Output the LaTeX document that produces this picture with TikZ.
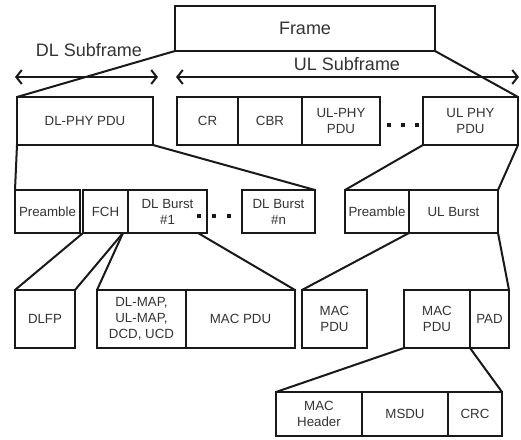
\documentclass[tikz,border=0pt]{standalone}
\usepackage{fontspec}
\setmainfont{Liberation Sans}
\usetikzlibrary{positioning}
\usetikzlibrary{arrows.meta}
\newcommand*{\cellfont}{\fontsize{13.3}{16}\selectfont}
\newcommand*{\titlefont}{\fontsize{18}{20}\selectfont}

\begin{document}
\begin{tikzpicture}[x = 1pt, y = -1pt, black!90, line width = 2pt,
    cell/.style = {draw, line width = 2.8pt, outer sep = 0pt, inner sep = 0pt,
                   align = center, font = \cellfont, text = black!80},
    dotbox/.style = {fill, minimum size = 3.8pt, inner sep = 0pt},
    link/.style = {line width = 2pt}]
    \useasboundingbox (0,0) rectangle (521,439);

    % frame and subframes
    \node (frame) [cell, anchor = north west, minimum width = 260pt, minimum height = 45pt,
                   font = \titlefont] at (175,6) {Frame};

    \node (dllab) [font = \titlefont, text = black!80] at (89,50) {DL Subframe};
    \node (ullab) [font = \titlefont, text = black!80] at (347,64) {UL Subframe};

    \coordinate (dlL) at (15,77);
    \coordinate (dlR) at (158,77);
    \coordinate (ulL) at (176,77);
    \coordinate (ulR) at (519,77);
    \draw[{Straight Barb[length = 5.5pt, width = 14pt]}-{Straight Barb[length = 5.5pt, width = 14pt]}] (dlL) -- (dlR);
    \draw[{Straight Barb[length = 5.5pt, width = 14pt]}-{Straight Barb[length = 5.5pt, width = 14pt]}] (ulL) -- (ulR);

    % PHY PDUs
    \node (dlphy) [cell, anchor = north west, minimum width = 136pt, minimum height = 48pt] at (17,97) {DL-PHY PDU};

    \node (cr) [cell, anchor = north west, minimum width = 61pt, minimum height = 48pt] at (177,97) {CR};
    \node (cbr) [cell, right = 0pt of cr, minimum width = 64pt, minimum height = 48pt] {CBR};
    \node (ulphyA) [cell, right = 0pt of cbr, minimum width = 78pt, minimum height = 48pt] {UL-PHY\\PDU};

    \node (d1) [dotbox] at (389,125) {};
    \node (d2) [dotbox] at (403,125) {};
    \node (d3) [dotbox] at (417,125) {};

    \node (ulphy) [cell, anchor = north west, minimum width = 95pt, minimum height = 48pt] at (423,97) {UL PHY\\PDU};

    \draw[link] (frame.south west) -- (dlphy.north west);
    \draw[link] (frame.south east) -- (ulphy.north east);

    % bursts
    \node (preDL) [cell, anchor = north west, minimum width = 65pt, minimum height = 43pt] at (15,190) {Preamble};
    \node (fch) [cell, anchor = north west, minimum width = 45pt, minimum height = 43pt] at (83,190) {FCH};
    \node (b1) [cell, right = 0pt of fch, minimum width = 79pt, minimum height = 43pt] {DL Burst\\\#1};

    \node (e1) [dotbox] at (199,216) {};
    \node (e2) [dotbox] at (214,216) {};
    \node (e3) [dotbox] at (229,216) {};

    \node (bn) [cell, anchor = north west, minimum width = 73pt, minimum height = 43pt] at (242,190) {DL Burst\\\#n};

    \node (preUL) [cell, anchor = north west, minimum width = 64pt, minimum height = 43pt] at (345,190) {Preamble};
    \node (ulb) [cell, right = 0pt of preUL, minimum width = 89pt, minimum height = 43pt] {UL Burst};

    \draw[link] (dlphy.south west) -- (preDL.north west);
    \draw[link] (dlphy.south east) -- (bn.north east);
    \draw[link] (ulphy.south west) -- (preUL.north west);
    \draw[link] (ulphy.south east) -- (ulb.north east);

    % MAC level
    \node (dlfp) [cell, anchor = north west, minimum width = 60pt, minimum height = 58pt] at (15,290) {DLFP};
    \node (maps) [cell, anchor = north west, minimum width = 89pt, minimum height = 58pt] at (97,290) {DL-MAP,\\UL-MAP,\\DCD, UCD};
    \node (macDL) [cell, right = 0pt of maps, minimum width = 109pt, minimum height = 58pt] {MAC PDU};

    \node (macUL) [cell, anchor = north west, minimum width = 65pt, minimum height = 58pt] at (302,290) {MAC\\PDU};

    \node (mac) [cell, anchor = north west, minimum width = 66pt, minimum height = 58pt] at (404,290) {MAC\\PDU};
    \node (pad) [cell, right = 0pt of mac, minimum width = 39pt, minimum height = 58pt] {PAD};

    \draw[link] (fch.south west) -- (dlfp.north west);
    \draw[link] ([xshift = -5pt]fch.south east) -- (dlfp.north east);
    \draw[link] ([xshift = -5pt]fch.south east) -- (maps.north west);
    \draw[link] ([xshift = -9pt]b1.south east) -- (macDL.north east);
    \draw[link] (ulb.south west) -- (macUL.north west);
    \draw[link] (ulb.south east) -- (pad.north east);

    % MAC PDU contents
    \node (hdr) [cell, anchor = north west, minimum width = 86pt, minimum height = 44pt] at (276,392) {MAC\\Header};
    \node (msdu) [cell, right = 0pt of hdr, minimum width = 86pt, minimum height = 44pt] {MSDU};
    \node (crc) [cell, right = 0pt of msdu, minimum width = 54pt, minimum height = 44pt] {CRC};

    \draw[link] (mac.south west) -- (hdr.north west);
    \draw[link] (pad.south west) -- (crc.north east);

\end{tikzpicture}
\end{document}
